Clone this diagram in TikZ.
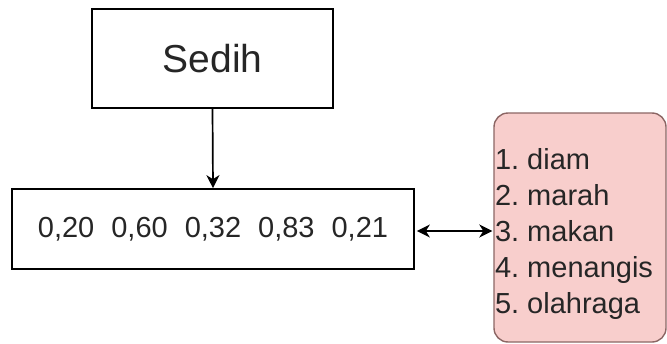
\documentclass[tikz,border=0pt]{standalone}
\usepackage{fontspec}
\setmainfont{Liberation Sans}
\usetikzlibrary{arrows.meta}
\frenchspacing
\definecolor{txt}{HTML}{262626}
\definecolor{pinkfill}{HTML}{F8CECC}
\definecolor{pinkdraw}{HTML}{8C6664}
\tikzset{
  plainbox/.style={draw=black, line width=1.7pt, fill=white, text=txt, inner sep=0pt},
  listbox/.style={draw=pinkdraw, line width=1.4pt, fill=pinkfill, rounded corners=14pt, inner sep=0pt},
  listtext/.style={text=txt, inner xsep=1.5pt, inner ysep=0pt, align=left, anchor=west},
  conn/.style={line width=1.7pt, -{Stealth[length=13pt,width=13pt,inset=4pt]}},
  dconn/.style={line width=1.7pt, {Stealth[length=13pt,width=13pt,inset=4pt]}-{Stealth[length=13pt,width=13pt,inset=4pt]}}
}
\begin{document}
\begin{tikzpicture}[x=1pt,y=-1pt]
\useasboundingbox (0,0) rectangle (667,343);
\node[plainbox, minimum width=241pt, minimum height=99pt, font=\fontsize{39}{44}\selectfont] (sedih) at (212.5,58.5) {Sedih};
\node[plainbox, minimum width=402pt, minimum height=80pt, font=\fontsize{29}{34}\selectfont] (num) at (213,229) {0,20\hspace{17pt}0,60\hspace{17pt}0,32\hspace{17pt}0,83\hspace{17pt}0,21};
\node[listbox, minimum width=172pt, minimum height=229pt] (list) at (580,227.5) {};
\node[listtext, font=\fontsize{29}{36}\selectfont] (items) at ([yshift=-6pt]list.west) {1. diam\\2. marah\\3. makan\\4. menangis\\5. olahraga};
\draw[conn] (sedih.south) -- (num.north);
\draw[dconn] ([xshift=2pt,yshift=-2pt]num.east) -- ([xshift=-1pt,yshift=-2pt]num.east -| list.west);
\end{tikzpicture}
\end{document}
